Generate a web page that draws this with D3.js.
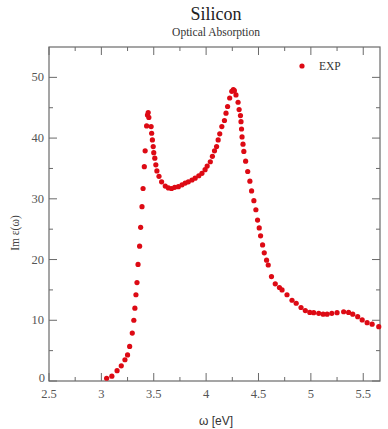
<!DOCTYPE html>
<html><head><meta charset="utf-8">
<script src="https://cdn.jsdelivr.net/npm/d3@7"></script>
<style>body{margin:0;background:#fff}svg{display:block}</style>
</head><body>
<svg id="c" width="388" height="429"></svg>
<script>
const energy = [3.05,3.10,3.15,3.19,3.225,3.25,3.27,3.295,3.31,3.32,3.33,3.34,3.35,3.365,3.375,3.388,3.398,3.41,3.418,3.432,3.44,3.447,3.453,
3.475,3.48,3.487,3.495,3.50,3.51,3.52,3.53,3.55,3.575,3.61,3.64,3.67,3.70,3.735,3.77,3.80,3.83,3.865,3.895,3.93,3.96,3.99,4.01,4.04,4.06,4.08,4.10,4.115,4.13,4.15,4.175,4.19,4.205,4.225,4.245,4.26,4.27,
4.285,4.305,4.315,4.328,4.333,4.338,4.343,4.352,4.36,4.377,4.397,4.418,4.434,4.456,4.475,4.491,4.507,4.52,4.539,4.555,4.577,4.593,4.624,4.66,4.70,
4.725,4.772,4.82,4.86,4.906,4.947,4.99,5.027,5.075,5.117,5.155,5.20,5.25,5.313,5.36,5.40,5.447,5.49,5.537,5.585,5.648];
const epsIm = [0.45,0.8,1.7,2.5,3.5,4.3,5.7,7.9,10.0,12.0,14.2,16.2,19.2,22.2,25.3,28.7,31.7,35.3,37.9,42.0,43.8,44.2,43.4,
41.9,40.8,39.7,38.6,37.6,36.7,35.6,34.6,33.7,32.8,32.1,31.8,31.7,31.9,32.0,32.3,32.6,32.8,33.1,33.4,33.8,34.2,34.8,35.4,36.1,37.0,37.9,38.6,39.7,40.7,41.9,42.9,44.1,45.2,46.6,47.7,48.0,47.8,
47.1,45.9,44.7,43.7,42.7,41.5,40.2,39.0,37.8,36.2,34.5,32.9,31.3,29.7,28.2,26.5,25.2,23.9,22.4,21.1,19.9,19.1,17.2,16.0,15.4,
15.0,14.2,13.3,12.8,12.1,11.6,11.3,11.25,11.15,11.0,11.0,11.15,11.25,11.4,11.3,11.0,10.6,10.05,9.6,9.35,8.95];
const xTicks = [2.5,3,3.5,4,4.5,5,5.5];
const yTicks = [0,10,20,30,40,50];
const titleText = "Silicon", subtitleText = "Optical Absorption";
const xLabel = "ω [eV]", yLabel = "Im ε(ω)", legendLabel = "EXP";

const svg = d3.select("#c");
const L=49,R=380,T=47,B=381;
const x = d3.scaleLinear().domain([2.5,5.66]).range([L,R]);
const y = d3.scaleLinear().domain([0,55]).range([B,T]);
const frameColor="#6a6a6a", tickText="#555", serif="'Liberation Serif','DejaVu Serif',serif";

svg.append("rect").attr("x",L).attr("y",T).attr("width",R-L).attr("height",B-T)
  .attr("fill","none").attr("stroke",frameColor).attr("stroke-width",1.2);

const xMinor = d3.range(2.75,5.66,0.5);
const yMinor = d3.range(5,55,10);
const g = svg.append("g").attr("stroke",frameColor).attr("stroke-width",1);
xTicks.forEach(v=>{const px=x(v);
  g.append("line").attr("x1",px).attr("x2",px).attr("y1",B).attr("y2",B-8);
  g.append("line").attr("x1",px).attr("x2",px).attr("y1",T).attr("y2",T+8);});
xMinor.forEach(v=>{const px=x(v);
  g.append("line").attr("x1",px).attr("x2",px).attr("y1",B).attr("y2",B-4);
  g.append("line").attr("x1",px).attr("x2",px).attr("y1",T).attr("y2",T+4);});
yTicks.forEach(v=>{const py=y(v);
  g.append("line").attr("x1",L).attr("x2",L+8).attr("y1",py).attr("y2",py);
  g.append("line").attr("x1",R).attr("x2",R-8).attr("y1",py).attr("y2",py);});
yMinor.forEach(v=>{const py=y(v);
  g.append("line").attr("x1",L).attr("x2",L+4).attr("y1",py).attr("y2",py);
  g.append("line").attr("x1",R).attr("x2",R-4).attr("y1",py).attr("y2",py);});

svg.append("g").selectAll("text").data(xTicks).join("text")
  .attr("x",d=>x(d)).attr("y",B+17).attr("text-anchor","middle")
  .attr("font-family",serif).attr("font-size",12.5).attr("fill",tickText).text(d=>d);
svg.append("g").selectAll("text").data(yTicks).join("text")
  .attr("x",d=>d===0?45:44).attr("y",d=>y(d)+(d===0?1:4)).attr("text-anchor","end")
  .attr("font-family",serif).attr("font-size",12.5).attr("fill",tickText).text(d=>d);

svg.append("text").attr("x",216).attr("y",20).attr("text-anchor","middle")
  .attr("font-family",serif).attr("font-size",18).attr("fill","#222").text(titleText);
svg.append("text").attr("x",216).attr("y",36).attr("text-anchor","middle")
  .attr("font-family",serif).attr("font-size",11.5).attr("fill","#333").text(subtitleText);
svg.append("text").attr("x",216).attr("y",425).attr("text-anchor","middle")
  .attr("font-family","'Liberation Sans',Arial,sans-serif").attr("font-size",12).attr("fill","#333").text(xLabel);
svg.append("text").attr("transform","translate(19,233) rotate(-90)").attr("text-anchor","middle")
  .attr("font-family",serif).attr("font-size",11.5).attr("fill","#444").text(yLabel);

const red="#dd0a14";
const data = energy.map((e,i)=>({e,v:epsIm[i]}));
svg.append("g").selectAll("circle").data(data).join("circle")
  .attr("cx",d=>x(d.e)).attr("cy",d=>y(d.v)).attr("r",2.6).attr("fill",red);

svg.append("circle").attr("cx",302).attr("cy",66).attr("r",2.6).attr("fill",red);
svg.append("text").attr("x",319).attr("y",70).attr("font-family",serif).attr("font-size",11.5)
  .attr("fill","#333").text(legendLabel);
</script>
</body></html>
